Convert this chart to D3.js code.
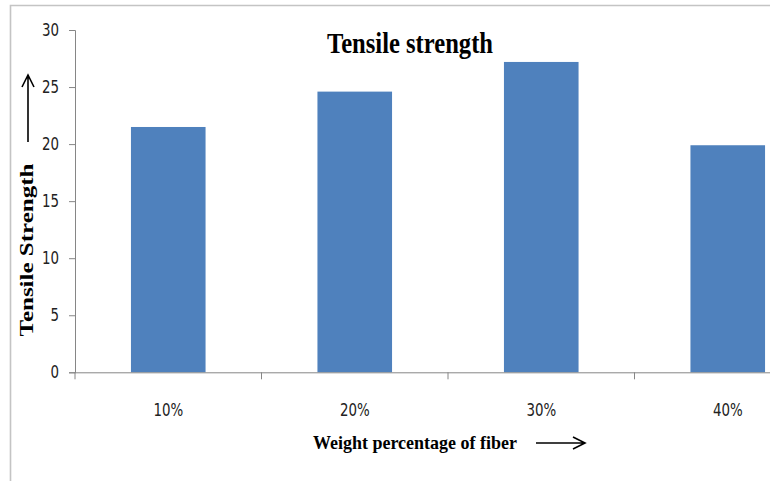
<!DOCTYPE html>
<html>
<head>
<meta charset="utf-8">
<script src="https://cdn.jsdelivr.net/npm/d3@7"></script>
<style>
  html, body { margin: 0; padding: 0; background: #fff; }
  svg { display: block; }
</style>
</head>
<body>
<svg id="chart" width="770" height="481"></svg>
<script>
// Tensile strength by fibre weight percentage
const categories = ["10%", "20%", "30%", "40%"];
const strength = [21.5, 24.6, 27.2, 19.9];
const yTicks = [0, 5, 10, 15, 20, 25, 30];

const svg = d3.select("#chart");
const W = 770, H = 481;

// plot area (the category axis runs past the right edge of the frame)
const plotLeft = 75, plotRight = 821, plotTop = 30, plotBottom = 372.3;

const x = d3.scaleBand()
  .domain(categories)
  .range([plotLeft, plotRight])
  .paddingInner(0.6)
  .paddingOuter(0.3);

const y = d3.scaleLinear().domain([0, 30]).range([plotBottom, plotTop]);

const tickFont = "'DejaVu Sans Condensed', 'DejaVu Sans', sans-serif";
const tickScale = 0.85; // horizontal squeeze for a narrow label face
const serif = "'Liberation Serif', 'Times New Roman', serif";
const axisColor = "#868686";

// outer frame (top and left edges visible)
svg.append("path")
  .attr("d", `M10.5,${H} V5.5 H${W}`)
  .attr("fill", "none")
  .attr("stroke", "#c4c4c4")
  .attr("stroke-width", 1.6);

// bars
svg.append("g")
  .selectAll("rect")
  .data(categories.map((c, i) => ({ c, v: strength[i] })))
  .join("rect")
  .attr("x", d => x(d.c))
  .attr("y", d => y(d.v))
  .attr("width", x.bandwidth())
  .attr("height", d => y(0) - y(d.v))
  .attr("fill", "#4F81BD");

// y axis
const yAxis = svg.append("g")
  .attr("transform", `translate(${plotLeft},0)`)
  .call(d3.axisLeft(y).tickValues(yTicks).tickSize(6).tickPadding(10));
yAxis.select(".domain").attr("stroke", axisColor);
yAxis.selectAll(".tick line").attr("stroke", axisColor);
yAxis.selectAll(".tick text")
  .attr("x", -16 / tickScale)
  .attr("transform", `scale(${tickScale},1)`)
  .attr("fill", "#222")
  .style("font-family", tickFont)
  .style("font-size", "17.5px");

// x axis: labels centred on bands, tick marks between categories
const xAxis = svg.append("g")
  .attr("transform", `translate(0,${plotBottom})`)
  .call(d3.axisBottom(x).tickSize(0).tickPadding(31));
xAxis.select(".domain").attr("stroke", axisColor).attr("d", `M${plotLeft},0.5H${plotRight}`);
xAxis.selectAll(".tick text")
  .attr("transform", `scale(${tickScale},1)`)
  .attr("fill", "#222")
  .style("font-family", tickFont)
  .style("font-size", "17.5px");

const gap = (x.step() - x.bandwidth()) / 2;
const bounds = categories.map(c => x(c) - gap)
  .concat([x(categories[categories.length - 1]) + x.bandwidth() + gap]);
svg.append("g")
  .selectAll("line")
  .data(bounds)
  .join("line")
  .attr("x1", d => d).attr("x2", d => d)
  .attr("y1", plotBottom).attr("y2", plotBottom + 7)
  .attr("stroke", axisColor);

// title
svg.append("text")
  .attr("x", 410).attr("y", 53)
  .attr("text-anchor", "middle")
  .attr("textLength", 166)
  .attr("lengthAdjust", "spacingAndGlyphs")
  .style("font-family", serif)
  .style("font-weight", "bold")
  .style("font-size", "30px")
  .attr("fill", "#000")
  .text("Tensile strength");

// y axis title with arrow
svg.append("text")
  .attr("transform", "translate(33,250) rotate(-90)")
  .attr("text-anchor", "middle")
  .attr("textLength", 173)
  .attr("lengthAdjust", "spacingAndGlyphs")
  .style("font-family", serif)
  .style("font-weight", "bold")
  .style("font-size", "19px")
  .attr("fill", "#000")
  .text("Tensile Strength");

svg.append("path")
  .attr("d", "M28,142 V75 M22,87 L28,75 L34,87")
  .attr("fill", "none")
  .attr("stroke", "#000")
  .attr("stroke-width", 1.6);

// x axis title with arrow
svg.append("text")
  .attr("x", 415).attr("y", 449)
  .attr("text-anchor", "middle")
  .attr("textLength", 204)
  .attr("lengthAdjust", "spacingAndGlyphs")
  .style("font-family", serif)
  .style("font-weight", "bold")
  .style("font-size", "19px")
  .attr("fill", "#000")
  .text("Weight percentage of fiber");

svg.append("path")
  .attr("d", "M536,443 H585 M573,437 L585,443 L573,449")
  .attr("fill", "none")
  .attr("stroke", "#000")
  .attr("stroke-width", 1.6);
</script>
</body>
</html>
